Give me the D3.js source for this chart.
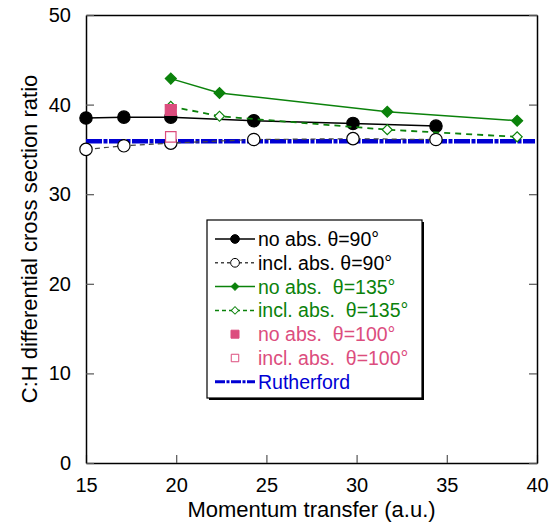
<!DOCTYPE html>
<html>
<head>
<script src="https://d3js.org/d3.v7.min.js"></script>
<style>
  body { margin: 0; background: #fff; }
  text { font-family: "Liberation Sans", Arial, sans-serif; }
</style>
</head>
<body>
<svg id="chart" width="560" height="528"></svg>
<script>
// data
const q90 = [15, 17.1, 19.7, 24.3, 29.8, 34.4];
const noAbs90 = [38.5, 38.6, 38.6, 38.2, 37.9, 37.6];
const inclAbs90 = [35.0, 35.4, 35.7, 36.1, 36.2, 36.1];
const q135 = [19.7, 22.4, 31.7, 38.9];
const noAbs135 = [42.9, 41.3, 39.2, 38.2];
const inclAbs135 = [39.8, 38.7, 37.2, 36.4];
const q100 = [19.7];
const noAbs100 = [39.4];
const inclAbs100 = [36.4];
const rutherford = 35.9;
const xTicks = [15, 20, 25, 30, 35, 40];
const yTicks = [0, 10, 20, 30, 40, 50];

const svg = d3.select("#chart");
const plotL = 86, plotR = 537, plotT = 15, plotB = 463;
const x = d3.scaleLinear().domain([15, 40]).range([plotL, plotR]);
const y = d3.scaleLinear().domain([0, 50]).range([plotB, plotT]);

const green = "#0b820b", pink = "#dc4d7e", blue = "#0000d4";

// axes with inward ticks (none on top)
svg.append("g").attr("transform", `translate(0,${plotB})`)
  .call(d3.axisBottom(x).tickValues(xTicks).tickSizeInner(-8).tickSizeOuter(0).tickPadding(15))
  .call(g => g.selectAll("text").attr("font-size", 20).attr("fill", "#000"));
svg.append("g").attr("transform", `translate(0,${plotT})`)
  .call(d3.axisTop(x).tickValues([]).tickSizeOuter(0));
svg.append("g").attr("transform", `translate(${plotL},0)`)
  .call(d3.axisLeft(y).tickValues(yTicks).tickSizeInner(-8).tickSizeOuter(0).tickPadding(15))
  .call(g => g.selectAll("text").attr("font-size", 20).attr("fill", "#000"));
svg.append("g").attr("transform", `translate(${plotR},0)`)
  .call(d3.axisRight(y).tickValues(yTicks).tickSizeInner(-8).tickSizeOuter(0).tickFormat(""));
svg.selectAll(".domain").attr("stroke", "#000").attr("stroke-width", 1.5);
svg.selectAll(".tick line").attr("stroke", "#555").attr("stroke-width", 1.2);

svg.append("text").attr("x", (plotL + plotR) / 2).attr("y", 517)
  .attr("text-anchor", "middle").attr("font-size", 22).text("Momentum transfer (a.u.)");
svg.append("text").attr("transform", `translate(37,${(plotT + plotB) / 2}) rotate(-90)`)
  .attr("text-anchor", "middle").attr("font-size", 22).text("C:H differential cross section ratio");

// Rutherford line
svg.append("line").attr("x1", x(15)).attr("x2", x(40) - 2)
  .attr("y1", y(rutherford)).attr("y2", y(rutherford))
  .attr("stroke", blue).attr("stroke-width", 4.5).attr("stroke-dasharray", "16,1.5,4,1.5");

const line = d3.line().x(d => x(d[0])).y(d => y(d[1]));
const zip = (a, b) => a.map((v, i) => [v, b[i]]);

function series(qs, vs, color, dash, width, marker, fill) {
  const pts = zip(qs, vs);
  if (pts.length > 1) {
    svg.append("path").datum(pts).attr("d", line).attr("fill", "none")
      .attr("stroke", color).attr("stroke-width", width).attr("stroke-dasharray", dash);
  }
  const sym = d3.symbol().type(marker.type).size(marker.size);
  svg.append("g").selectAll("path").data(pts).join("path")
    .attr("transform", d => `translate(${x(d[0])},${y(d[1])})` + (marker.rot ? " rotate(45)" : ""))
    .attr("d", sym).attr("fill", fill).attr("stroke", marker.stroke || color)
    .attr("stroke-width", 1.2);
}

series(q90, inclAbs90, "#444", "5,4", 1.2, {type: d3.symbolCircle, size: 120, stroke: "#000"}, "#fff");
series(q90, noAbs90, "#000", null, 1.5, {type: d3.symbolCircle, size: 120}, "#000");
series(q135, inclAbs135, green, "6,5", 1.8, {type: d3.symbolSquare, size: 50, rot: true}, "#fff");
series(q135, noAbs135, green, null, 1.5, {type: d3.symbolSquare, size: 60, rot: true}, green);
series(q100, noAbs100, pink, null, 1, {type: d3.symbolSquare, size: 121}, pink);
series(q100, inclAbs100, pink, null, 1, {type: d3.symbolSquare, size: 110}, "#fff");

// legend
const lg = svg.append("g");
lg.append("rect").attr("x", 209).attr("y", 222).attr("width", 215).attr("height", 178).attr("fill", "#000");
lg.append("rect").attr("x", 207).attr("y", 220).attr("width", 215).attr("height", 178)
  .attr("fill", "#fff").attr("stroke", "#000").attr("stroke-width", 1.2);

const legendItems = [
  {label: "no abs. \u03b8=90\u00b0", color: "#000", text: "#000", dash: null, line: true, type: d3.symbolCircle, size: 60, fill: "#000"},
  {label: "incl. abs. \u03b8=90\u00b0", color: "#444", text: "#000", dash: "3,3", line: true, type: d3.symbolCircle, size: 60, fill: "#fff", stroke: "#000"},
  {label: "no abs.  \u03b8=135\u00b0", color: green, text: green, dash: null, line: true, type: d3.symbolSquare, size: 28, rot: true, fill: green},
  {label: "incl. abs.  \u03b8=135\u00b0", color: green, text: green, dash: "4,3", line: true, type: d3.symbolSquare, size: 28, rot: true, fill: "#fff"},
  {label: "no abs.  \u03b8=100\u00b0", color: pink, text: pink, line: false, type: d3.symbolSquare, size: 64, fill: pink},
  {label: "incl. abs.  \u03b8=100\u00b0", color: pink, text: pink, line: false, type: d3.symbolSquare, size: 56, fill: "#fff"},
  {label: "Rutherford", color: blue, text: blue, dash: "10,1.5,3,1.5", line: true, width: 3, type: null}
];

legendItems.forEach((it, i) => {
  const cy = 239 + i * 23.8;
  const row = lg.append("g");
  if (it.line) {
    row.append("line").attr("x1", 215).attr("x2", 255).attr("y1", cy).attr("y2", cy)
      .attr("stroke", it.color).attr("stroke-width", it.width || 1.5).attr("stroke-dasharray", it.dash);
  }
  if (it.type) {
    row.append("path").attr("d", d3.symbol().type(it.type).size(it.size))
      .attr("transform", `translate(235,${cy})` + (it.rot ? " rotate(45)" : ""))
      .attr("fill", it.fill).attr("stroke", it.stroke || it.color).attr("stroke-width", 1);
  }
  row.append("text").attr("x", 258).attr("y", cy + 7).attr("font-size", 19.5)
    .attr("fill", it.text).style("white-space", "pre").text(it.label);
});
</script>
</body>
</html>
